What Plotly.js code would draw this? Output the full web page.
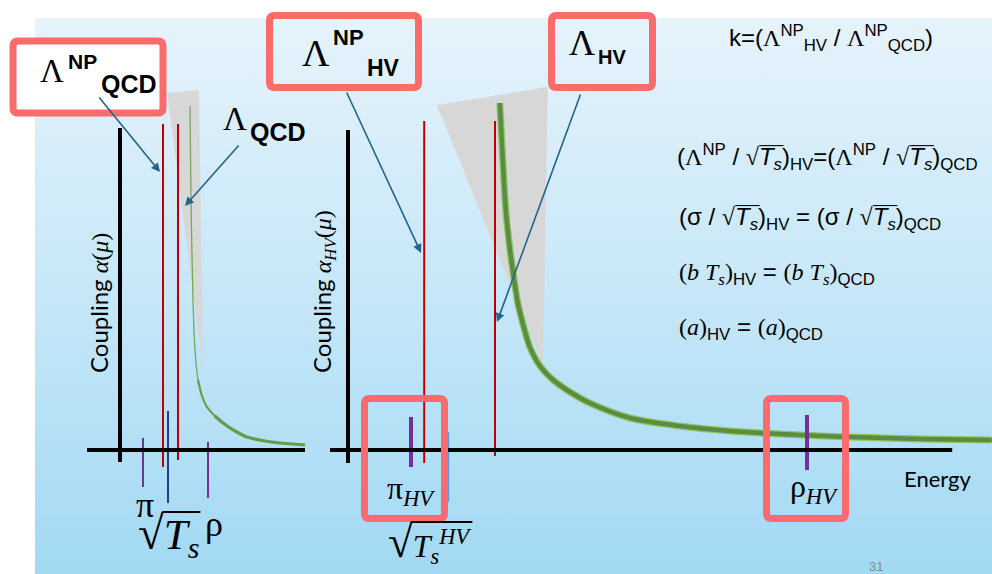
<!DOCTYPE html>
<html><head><meta charset="utf-8">
<script src="https://cdn.plot.ly/plotly-3.0.1.min.js"></script>
<style>
html,body{margin:0;padding:0;background:#fff;}
#wrap{position:relative;width:992px;height:574px;overflow:hidden;background:#fff;}
#bg{position:absolute;left:35px;top:18px;right:0;bottom:0;background:linear-gradient(to bottom,#e6f3fb 0%,#c6e7f8 50%,#a2d9f3 100%);}
#chart{position:absolute;left:0;top:0;width:992px;height:574px;}
</style></head><body>
<div id="wrap"><div id="bg"></div><div id="chart"></div></div>
<script>
// ---------------- DATA (arbitrary schematic units) ----------------
// QCD running coupling alpha(mu) vs energy
const qcdEnergy   = [3.5, 3.55, 3.65, 3.75, 3.9, 4.1, 4.35, 4.75, 5.15, 5.75, 6.35, 7.25, 8.0, 9.25];
const qcdCoupling = [3.44, 2.50, 1.50, 1.00, 0.70, 0.54, 0.43, 0.34, 0.27, 0.19, 0.13, 0.09, 0.07, 0.05];
// Hidden-valley running coupling alpha_HV(mu) vs energy
const hvEnergy    = [2.53, 2.58, 2.63, 2.70, 2.77, 2.83, 2.92, 3.03, 3.20, 3.42, 3.70, 4.03, 4.70, 5.53, 6.37, 7.20, 8.37, 9.53, 10.73];
const hvCoupling  = [3.47, 2.90, 2.40, 2.00, 1.70, 1.47, 1.25, 1.03, 0.84, 0.70, 0.58, 0.47, 0.32, 0.24, 0.19, 0.16, 0.13, 0.11, 0.10];
// uncertainty bands (grey wedges)
const qcdBandE = [2.35, 3.95, 4.15];
const qcdBandA = [3.57, 3.60, 0.82];
const hvBandE  = [1.48, 3.33, 3.25];
const hvBandA  = [3.45, 3.63, 0.85];
// scales (red vertical lines): Lambda^NP and Lambda
const qcdScaleNames  = ['Λ^NP_QCD', 'Λ_QCD'];
const qcdScaleEnergy = [2.15, 2.90];
const qcdScaleLow    = [-0.17, -0.10];
const qcdScaleHigh   = [3.26, 3.26];
const hvScaleNames   = ['Λ^NP_HV', 'Λ_HV'];
const hvScaleEnergy  = [1.27, 2.45];
const hvScaleLow     = [-0.13, -0.06];
const hvScaleHigh    = [3.29, 3.29];
// hadron / string-tension markers on the energy axis
const qcdMarkNames   = ['π', '√T_s', 'ρ'];
const qcdMarkEnergy  = [1.15, 2.40, 4.40];
const qcdMarkLow     = [-0.37, -0.53, -0.48];
const qcdMarkHigh    = [0.12, 0.39, 0.08];
const hvMarkNames    = ['π_HV', '√T_s^HV', 'ρ_HV'];
const hvMarkEnergy   = [1.05, 1.67, 7.65];
const hvMarkLow      = [-0.17, -0.52, -0.20];
const hvMarkHigh     = [0.33, 0.18, 0.35];
// axis extents
const qcdAxisE = [-1.65, 9.25], qcdAxisA = [-0.12, 3.22];
const hvAxisE  = [-0.30, 10.07], hvAxisA  = [-0.13, 3.20];

// ---------------- LAYOUT HELPERS ----------------
const W = 992, H = 574, TOP = 18;
const PX = x => x / W, PY = y => 1 - y / H;
const LEFT  = {px0: 35,  px1: 325, ox: 120, oy: 450, sx: 20, sy: 100};
const RIGHT = {px0: 325, px1: 992, ox: 348, oy: 450, sx: 60, sy: 100};
const xr = p => [(p.px0 - p.ox) / p.sx, (p.px1 - p.ox) / p.sx];
const yr = p => [(p.oy - H) / p.sy, (p.oy - TOP) / p.sy];

const SERIF = 'Liberation Serif, DejaVu Serif, serif';
const SANS = 'Liberation Sans, Arial, sans-serif';
const CAL = 'Lato, Liberation Sans, sans-serif';
const RED = '#c00000', PURPLE = '#7030a0', BOXC = '#fa6b6b', ARROW = '#22648c';

const traces = [];
function band(E, A, xa, ya) {
  traces.push({type: 'scatter', mode: 'lines', x: E.concat([E[0]]), y: A.concat([A[0]]),
    fill: 'toself', fillcolor: '#d7d7d7', line: {width: 0, color: '#d7d7d7'}, xaxis: xa, yaxis: ya, hoverinfo: 'skip'});
}
function vlines(E, lo, hi, colors, widths, xa, ya) {
  E.forEach((e, i) => traces.push({type: 'scatter', mode: 'lines', x: [e, e], y: [lo[i], hi[i]],
    line: {color: colors[i], width: widths[i]}, xaxis: xa, yaxis: ya, hoverinfo: 'skip'}));
}
function curve(E, A, i0, i1, color, width, xa, ya) {
  traces.push({type: 'scatter', mode: 'lines', x: E.slice(i0, i1), y: A.slice(i0, i1),
    line: {color: color, width: width, shape: 'spline', smoothing: 0.8}, xaxis: xa, yaxis: ya, hoverinfo: 'skip'});
}
band(qcdBandE, qcdBandA, 'x', 'y');
band(hvBandE, hvBandA, 'x2', 'y2');
vlines(qcdScaleEnergy, qcdScaleLow, qcdScaleHigh, [RED, RED], [2, 2], 'x', 'y');
vlines(hvScaleEnergy, hvScaleLow, hvScaleHigh, [RED, RED], [2, 2], 'x2', 'y2');
curve(qcdEnergy, qcdCoupling, 0, 6, '#74a85a', 1.3, 'x', 'y');
curve(qcdEnergy, qcdCoupling, 4, 9, '#6a9e4c', 2.2, 'x', 'y');
curve(qcdEnergy, qcdCoupling, 7, 14, '#679a46', 3.2, 'x', 'y');
curve(hvEnergy, hvCoupling, 0, hvEnergy.length, '#8ec46e', 7, 'x2', 'y2');
curve(hvEnergy, hvCoupling, 0, hvEnergy.length, '#5c8d3e', 4.5, 'x2', 'y2');
vlines(qcdMarkEnergy, qcdMarkLow, qcdMarkHigh, [PURPLE, '#203c8c', PURPLE], [2, 2, 2], 'x', 'y');
vlines(hvMarkEnergy, hvMarkLow, hvMarkHigh, [PURPLE, '#5b9bd5', PURPLE], [4, 2, 4], 'x2', 'y2');

function rrect(x0, y0, x1, y1, r) {
  const P = (x, y) => PX(x) + ',' + PY(y);
  return 'M' + P(x0 + r, y0) + ' L' + P(x1 - r, y0) + ' Q' + P(x1, y0) + ' ' + P(x1, y0 + r) +
    ' L' + P(x1, y1 - r) + ' Q' + P(x1, y1) + ' ' + P(x1 - r, y1) + ' L' + P(x0 + r, y1) +
    ' Q' + P(x0, y1) + ' ' + P(x0, y1 - r) + ' L' + P(x0, y0 + r) + ' Q' + P(x0, y0) + ' ' + P(x0 + r, y0) + ' Z';
}
function axisShapes(E, A, xa, ya) {
  return [
    {type: 'line', xref: xa, yref: ya, x0: E[0], x1: E[1], y0: 0, y1: 0, line: {color: '#000', width: 4}, layer: 'above'},
    {type: 'line', xref: xa, yref: ya, x0: 0, x1: 0, y0: A[0], y1: A[1], line: {color: '#000', width: 4}, layer: 'above'}
  ];
}
const shapes = [].concat(axisShapes(qcdAxisE, qcdAxisA, 'x', 'y'), axisShapes(hvAxisE, hvAxisA, 'x2', 'y2'));
[[13, 41, 163, 113, 'white'], [269.5, 15.5, 418.5, 87.5, 'rgba(0,0,0,0)'], [551.5, 15.5, 652.5, 87.5, 'rgba(0,0,0,0)'],
 [364.5, 398.5, 444.5, 518.5, 'rgba(0,0,0,0)'], [766.5, 398.5, 845.5, 518.5, 'rgba(0,0,0,0)']].forEach(b => {
  shapes.push({type: 'path', xref: 'paper', yref: 'paper', path: rrect(b[0], b[1], b[2], b[3], 5),
    fillcolor: b[4], line: {color: BOXC, width: 7}, layer: 'above'});
});

const annotations = [];
function T(text, x, y, size, family, xanchor, extra) {
  annotations.push(Object.assign({xref: 'paper', yref: 'paper', x: PX(x), y: PY(y), text: text, showarrow: false,
    xanchor: xanchor || 'center', yanchor: 'middle', font: {size: size, family: family, color: '#000'}}, extra || {}));
}
function arrow(tx, ty, hx, hy) {
  annotations.push({xref: 'paper', yref: 'paper', x: PX(hx), y: PY(hy), ax: tx - hx, ay: ty - hy, text: '',
    showarrow: true, arrowhead: 2, arrowsize: 1.1, arrowwidth: 1.6, arrowcolor: ARROW, standoff: 0});
}
// radical sign + radicand (the bar over the radicand is added after layout, see below)
const RAD = fs => '<span style="font-family:Liberation Serif;word-spacing:1px' + (fs ? ';font-size:' + fs + 'px' : '') + '">√</span>';
const OVER = s => '<span style="word-spacing:2px">' + s + '</span>';
const TS = RAD() + OVER('<i>T</i><sub><i>s</i></sub>');
// boxed scale labels
T('Λ', 51.5, 71, 33, SERIF);
T('<b>NP</b>', 66, 61, 21, SANS, 'left');
T('<b>QCD</b>', 99, 84, 25, SANS, 'left');
T('Λ', 316, 53, 38, SERIF);
T('<b>NP</b>', 331, 37, 22, SANS, 'left');
T('<b>HV</b>', 365, 68, 23, SANS, 'left');
T('Λ', 582, 43, 36, SERIF);
T('<b>HV</b>', 596, 57, 20, SANS, 'left');
T('Λ', 235, 119, 33, SERIF);
T('<b>QCD</b>', 248, 132, 25, SANS, 'left');
// arrows
arrow(98, 96, 160, 172);
arrow(240, 144, 185, 206);
arrow(346, 91, 421, 253);
arrow(581, 93, 497, 322);
// hadron labels
T('π', 145, 505, 36, SERIF);
T(RAD(47) + OVER('<i>T</i><sub><i>s</i></sub>'), 168, 536, 43, SERIF);
T('ρ', 214, 524, 36, SERIF);
T('π<sub><i>HV</i></sub>', 411, 490, 32, SERIF);
T(RAD(45) + OVER('<i>T</i><sub><i>s</i></sub><sup><i>HV</i></sup>'), 429, 543, 32, SERIF);
T('ρ<sub><i>HV</i></sub>', 814, 488, 32, SERIF);
T('Energy', 937, 478, 22, CAL);
T('31', 876, 566, 13, SANS, 'center', {font: {size: 13, family: SANS, color: '#8a8a8a'}});
// axis titles
T('Coupling <span style="font-family:Liberation Serif"><i>α</i>(<i>μ</i>)</span>', 98, 303, 24, CAL, 'center', {textangle: -90});
T('Coupling <span style="font-family:Liberation Serif"><i>α</i><sub><i>HV</i></sub>(<i>μ</i>)</span>', 323, 292, 24, CAL, 'center', {textangle: -90});
// relations
const L = '<span style="font-family:Liberation Serif">Λ</span>';
const S = s => '<span style="font-family:Liberation Serif">' + s + '</span>';
T('k=(' + L + '<sup>NP</sup><sub>HV</sub> / ' + L + '<sup>NP</sup><sub>QCD</sub>)', 727, 38, 24, SANS, 'left');
T('(' + L + '<sup>NP</sup> / ' + TS + ')<sub>HV</sub>=(' + L + '<sup>NP</sup> / ' + TS + ')<sub>QCD</sub>', 675, 157, 24, SANS, 'left');
T('(σ / ' + TS + ')<sub>HV</sub> = (σ / ' + TS + ')<sub>QCD</sub>', 677, 218, 24, SANS, 'left');
T(S('(<i>b T</i><sub><i>s</i></sub>)') + '<sub>HV</sub> = ' + S('(<i>b T</i><sub><i>s</i></sub>)') + '<sub>QCD</sub>', 677, 273, 24, SANS, 'left');
T(S('(<i>a</i>)') + '<sub>HV</sub> = ' + S('(<i>a</i>)') + '<sub>QCD</sub>', 677, 328, 24, SANS, 'left');

const layout = {
  width: W, height: H, autosize: false, margin: {l: 0, r: 0, t: 0, b: 0, pad: 0},
  paper_bgcolor: 'rgba(0,0,0,0)', plot_bgcolor: 'rgba(0,0,0,0)', showlegend: false, hovermode: false,
  xaxis:  {domain: [PX(LEFT.px0), PX(LEFT.px1)], range: xr(LEFT), visible: false, anchor: 'y'},
  yaxis:  {domain: [0, PY(TOP)], range: yr(LEFT), visible: false, anchor: 'x'},
  xaxis2: {domain: [PX(RIGHT.px0), 1], range: xr(RIGHT), visible: false, anchor: 'y2'},
  yaxis2: {domain: [0, PY(TOP)], range: yr(RIGHT), visible: false, anchor: 'x2'},
  shapes: shapes, annotations: annotations
};
Plotly.newPlot('chart', traces, layout, {displayModeBar: false, staticPlot: true}).then(gd => {
  // add the vinculum (bar) of every square root, measured from the rendered glyphs
  try {
    const ctx = document.createElement('canvas').getContext('2d');
    const all = Array.from(gd.querySelectorAll('.annotation-text tspan'));
    const st = t => (t.getAttribute('style') || '').replace(/\s/g, '');
    const rads = all.filter(t => st(t).indexOf('word-spacing:1px') >= 0);
    const overs = all.filter(t => st(t).indexOf('word-spacing:2px') >= 0);
    const extra = [];
    rads.forEach((r, i) => {
      const g = overs[i]; if (!g) return;
      const rr = r.getBoundingClientRect(), rg = g.getBoundingClientRect();
      const fs = parseFloat(getComputedStyle(r).fontSize) || 20;
      ctx.font = fs + 'px "Liberation Serif"';
      const m = ctx.measureText('√');
      const base = rr.bottom - m.fontBoundingBoxDescent;
      const lw = Math.max(1, fs * 0.045);
      const y = base - m.actualBoundingBoxAscent + lw / 2;
      const x0 = rr.left + m.actualBoundingBoxRight - lw / 2;
      const x1 = rg.right + 1;
      extra.push({type: 'line', xref: 'paper', yref: 'paper', x0: PX(x0), x1: PX(x1), y0: PY(y), y1: PY(y),
        line: {color: '#000', width: lw}, layer: 'above'});
    });
    if (extra.length) Plotly.relayout(gd, {shapes: shapes.concat(extra)});
  } catch (e) {}
});
</script>
</body></html>
